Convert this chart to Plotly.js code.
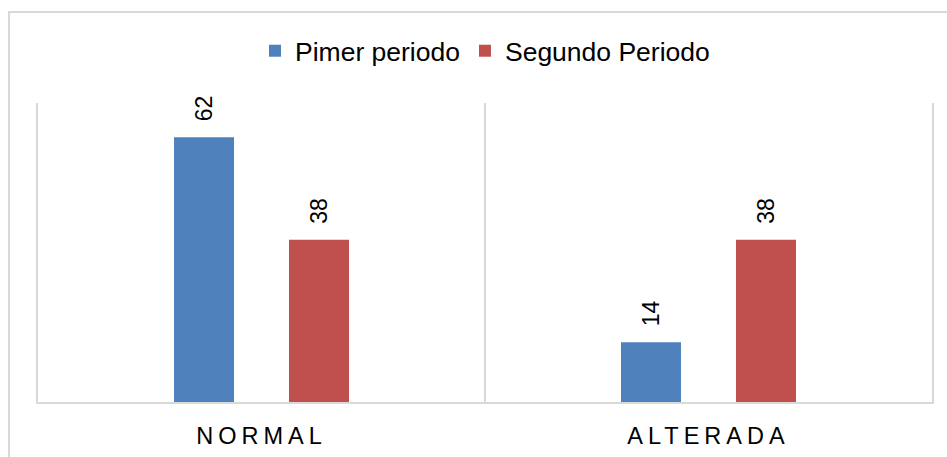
<!DOCTYPE html>
<html>
<head>
<meta charset="utf-8">
<script src="https://cdn.plot.ly/plotly-3.0.1.min.js"></script>
<style>
  html, body { margin: 0; padding: 0; background: #ffffff; overflow: hidden; }
  #frame { position: absolute; left: 8px; top: 11px; width: 980px; height: 480px; border: 2px solid #d9d9d9; box-sizing: border-box; }
  #chart { position: absolute; left: 0; top: 0; width: 947px; height: 457px; }
  #chart .xtick text { letter-spacing: 5px; }
</style>
</head>
<body>
<div id="frame"></div>
<div id="chart"></div>
<script>
const categories = ["NORMAL", "ALTERADA"];
const seriesNames = ["Pimer periodo", "Segundo Periodo"];
const primerPeriodo = [62, 14];
const segundoPeriodo = [38, 38];

const colors = ["#4F81BD", "#C0504D"];
const font = 'Arial, "Liberation Sans", sans-serif';
const bargap = 0.4855;
const bargroupgap = 0.478;

const xs = categories.map((c, i) => i);
const series = [primerPeriodo, segundoPeriodo];

const traces = series.map((vals, k) => ({
  type: "bar",
  name: seriesNames[k],
  x: xs,
  y: vals,
  marker: { color: colors[k] },
  hoverinfo: "none"
}));

const slot = (1 - bargap) / 2;
const annotations = [];
series.forEach((vals, k) => {
  vals.forEach((v, i) => {
    annotations.push({
      x: i + (k === 0 ? -1 : 1) * slot / 2,
      y: v,
      xref: "x", yref: "y",
      text: String(v),
      showarrow: false,
      textangle: -90,
      xanchor: "center",
      yanchor: "bottom",
      yshift: 14,
      font: { family: font, size: 23, color: "#000000" }
    });
  });
});

const layout = {
  width: 947,
  height: 457,
  margin: { l: 38, r: 15, t: 103, b: 55 },
  paper_bgcolor: "rgba(0,0,0,0)",
  plot_bgcolor: "rgba(0,0,0,0)",
  barmode: "group",
  bargap: bargap,
  bargroupgap: bargroupgap,
  showlegend: true,
  legend: {
    orientation: "h",
    x: 0.5, xanchor: "center",
    yref: "container", y: 1 - 51 / 457, yanchor: "middle",
    font: { family: font, size: 26.5, color: "#000000" },
    traceorder: "normal"
  },
  xaxis: {
    range: [-0.5, 1.5],
    tickvals: xs,
    ticktext: categories,
    showgrid: false,
    zeroline: false,
    showline: true,
    linecolor: "#d9d9d9",
    linewidth: 2,
    ticks: "",
    ticklabelstandoff: 12,
    tickfont: { family: font, size: 23.5, color: "#000000" },
    minor: { tick0: -0.5, dtick: 1, showgrid: true, gridcolor: "#d9d9d9", gridwidth: 2, ticks: "" },
    fixedrange: true
  },
  yaxis: {
    range: [0, 70],
    showgrid: false,
    zeroline: false,
    showline: true,
    mirror: true,
    linecolor: "#d9d9d9",
    linewidth: 2,
    showticklabels: false,
    ticks: "",
    fixedrange: true
  },
  annotations: annotations
};

Plotly.newPlot("chart", traces, layout, { displayModeBar: false, staticPlot: true });
</script>
</body>
</html>
